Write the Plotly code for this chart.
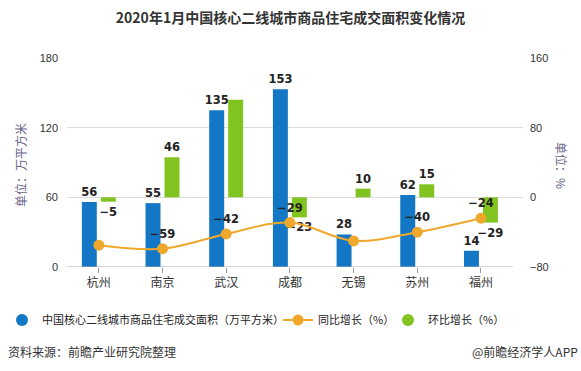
import plotly.graph_objects as go

cities = ["杭州", "南京", "武汉", "成都", "无锡", "苏州", "福州"]
area = [56, 55, 135, 153, 28, 62, 14]          # 万平方米 (left axis)
yoy = [-55, -59, -42, -29, -50, -40, -24]       # 同比增长 %
mom = [-5, 46, 112, -23, 10, 15, -29]           # 环比增长 %
# which labels are visible in the original (overlapping ones hidden)
show_area = [True] * 7
show_yoy = [False, True, True, True, False, True, True]
show_mom = [True, True, False, True, True, True, True]

left_ticks = [0, 60, 120, 180]
right_ticks = [-80, 0, 80, 160]

BLUE = "#1477C5"
GREEN = "#82C41F"
ORANGE = "#F0A82C"
TXT = "#333333"
AX_T = "#6B6489"


def lab(vals, show):
    return [str(v).replace("-", "\u2212") if s else "" for v, s in zip(vals, show)]


W, H = 581, 371
L, R, T, B = 67, 58, 58, 104
pw = W - L - R
ph = H - T - B


def px(x):
    return (x - L) / pw


def py(y):
    return (H - B - y) / ph


LABFONT = dict(family="DejaVu Sans", size=11.5, color="#222222", weight="bold")

fig = go.Figure()

fig.add_trace(go.Bar(
    x=cities, y=area, yaxis="y", marker=dict(color=BLUE, line=dict(width=0)),
    width=0.235, offset=-0.267, text=lab(area, show_area), textposition="outside",
    constraintext="none", cliponaxis=False, textfont=LABFONT,
    showlegend=False, hoverinfo="skip"))

fig.add_trace(go.Bar(
    x=cities, y=mom, yaxis="y2", marker=dict(color=GREEN, line=dict(width=0)),
    width=0.235, offset=0.031, text=lab(mom, show_mom), textposition="outside",
    constraintext="none", cliponaxis=False, textfont=LABFONT,
    showlegend=False, hoverinfo="skip"))

fig.add_trace(go.Scatter(
    x=cities, y=yoy, yaxis="y2", mode="lines+markers+text",
    line=dict(color=ORANGE, width=2, shape="spline", smoothing=1.0),
    marker=dict(color=ORANGE, size=11),
    text=lab(yoy, show_yoy), textposition="top center", textfont=LABFONT,
    cliponaxis=False, name="同比增长（%）", legend="legend2", hoverinfo="skip"))

# legend-only entries
fig.add_trace(go.Scatter(x=[None], y=[None], mode="markers",
                         marker=dict(color=BLUE, size=12),
                         name="中国核心二线城市商品住宅成交面积（万平方米）", legend="legend"))
fig.add_trace(go.Scatter(x=[None], y=[None], mode="markers",
                         marker=dict(color=GREEN, size=12),
                         name="环比增长（%）", legend="legend3"))

legfont = dict(family="Noto Sans CJK SC", size=11, color="#222222")
legy = py(320)

fig.update_layout(
    width=W, height=H,
    margin=dict(l=L, r=R, t=T, b=B, autoexpand=False),
    paper_bgcolor="white", plot_bgcolor="white",
    barmode="overlay",
    title=dict(text="<b>2020年1月中国核心二线城市商品住宅成交面积变化情况</b>",
               x=0.5, xanchor="center", y=1 - 18 / H, yanchor="middle",
               font=dict(family="Noto Sans CJK SC", size=14, color=TXT)),
    xaxis=dict(range=[-0.5, 6.66], showgrid=False, showline=False, zeroline=False,
               ticks="outside", ticklen=5, tickcolor="#999999",
               tickfont=dict(family="Noto Sans CJK SC", size=12, color=TXT)),
    yaxis=dict(range=[0, 180], tickvals=left_ticks, showgrid=True, gridcolor="#DDDDDD",
               gridwidth=1, zeroline=False, showline=False,
               tickfont=dict(family="Liberation Sans", size=11, color=TXT), ticklabelstandoff=8),
    yaxis2=dict(range=[-80, 160], tickvals=right_ticks, overlaying="y", side="right",
                showgrid=False, zeroline=False, showline=False,
                tickfont=dict(family="Liberation Sans", size=11, color=TXT), ticklabelstandoff=6),
    legend=dict(orientation="h", x=px(2), y=legy, xanchor="left", yanchor="middle",
                itemwidth=30, font=legfont, bgcolor="rgba(0,0,0,0)"),
    legend2=dict(orientation="h", x=px(278), y=legy, xanchor="left", yanchor="middle",
                 itemwidth=30, font=legfont, bgcolor="rgba(0,0,0,0)"),
    legend3=dict(orientation="h", x=px(388), y=legy, xanchor="left", yanchor="middle",
                 itemwidth=30, font=legfont, bgcolor="rgba(0,0,0,0)"),
    shapes=[dict(type="line", xref="x", yref="y", x0=-0.5, x1=6.5, y0=0, y1=0,
                 line=dict(color="#AAAAAA", width=1))],
    annotations=[
        dict(text="单位：万平方米", textangle=-90, xref="paper", yref="paper",
             x=px(20), y=py(165), xanchor="center", yanchor="middle", showarrow=False,
             font=dict(family="Noto Sans CJK SC", size=12, color=AX_T)),
        dict(text="单位：%", textangle=90, xref="paper", yref="paper",
             x=px(562), y=py(165), xanchor="center", yanchor="middle", showarrow=False,
             font=dict(family="Noto Sans CJK SC", size=12, color=AX_T)),
        dict(text="资料来源：前瞻产业研究院整理", xref="paper", yref="paper",
             x=px(6), y=py(351), xanchor="left", yanchor="middle", showarrow=False,
             font=dict(family="Noto Sans CJK SC", size=12, color=TXT)),
        dict(text="@前瞻经济学人APP", xref="paper", yref="paper",
             x=px(580), y=py(351), xanchor="right", yanchor="middle", showarrow=False,
             font=dict(family="Noto Sans CJK SC", size=12, color=TXT)),
    ],
)

fig.write_html("out.html", config={"displayModeBar": False},
               post_script="document.body.style.margin='0px';document.body.style.overflow='hidden';")
